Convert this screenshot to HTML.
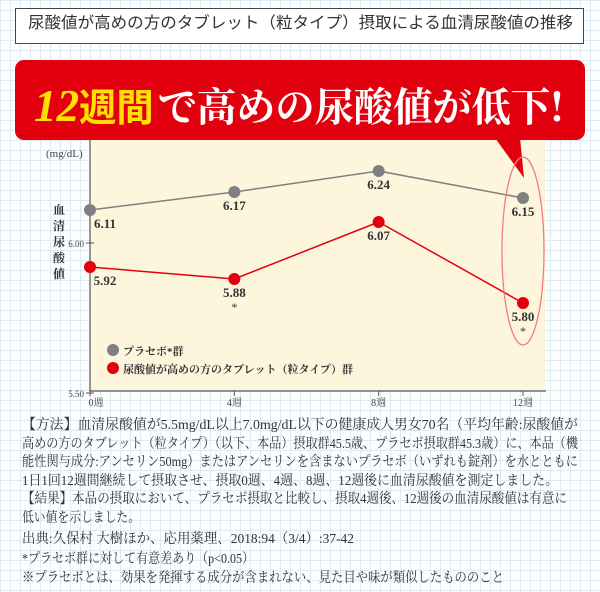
<!DOCTYPE html>
<html><head><meta charset="utf-8">
<style>
body{margin:0;width:600px;height:592px;overflow:hidden;font-family:"Liberation Serif","Noto Serif CJK SC",serif;
background-color:#fbfdfe;background-image:linear-gradient(#dfeaf0 1px,transparent 1px),linear-gradient(90deg,#dfeaf0 1px,transparent 1px);background-size:10px 10px;position:relative}
#title{position:absolute;left:15px;top:8px;width:567px;height:34px;border:1.5px solid #444;background:#fff;color:#333;overflow:hidden}
#title span{position:absolute;left:12px;top:0;line-height:34px;font:16px "Liberation Sans","Noto Sans CJK JP",sans-serif;white-space:nowrap;transform-origin:0 50%}
#notes{position:absolute;left:22px;top:417px;font-size:14px;color:#333;line-height:18.6px;white-space:nowrap}
#notes div{white-space:nowrap;width:max-content;transform-origin:0 50%}
</style></head><body>
<div id="title"><span class="fit" data-w="545">尿酸値が高めの方のタブレット（粒タイプ）摂取による血清尿酸値の推移</span></div>
<svg id="chart" width="600" height="410" style="position:absolute;left:0;top:0">
<rect x="90" y="135" width="455" height="255" fill="#fdf5dc"/>
<g id="banner">
<rect x="15" y="60" width="570" height="80" rx="9" fill="#e2000f"/>
<polygon points="495,138 520,138 524,178" fill="#e2000f"/>
<text x="34" y="121" textLength="530" lengthAdjust="spacingAndGlyphs" font-family="'Liberation Serif','Noto Serif CJK SC',serif" font-weight="bold" font-style="italic" font-size="46" fill="#ffe000">12<tspan font-style="normal" font-family="'Noto Sans CJK JP',sans-serif" font-size="38">週間</tspan><tspan fill="#fff" font-family="'Noto Serif CJK SC',serif" font-style="normal" font-size="40" dx="4">で高めの尿酸値が低下!</tspan></text>
</g>
<g id="axes"></g><g id="series"></g>
<ellipse cx="523" cy="251" rx="21" ry="94" fill="none" stroke="#ee7e86" stroke-width="1.3"/>
</svg>
<div id="notes">
<div class="fit" data-w="556">【方法】血清尿酸値が5.5mg/dL以上7.0mg/dL以下の健康成人男女70名（平均年齢:尿酸値が</div>
<div class="fit" data-w="556">高めの方のタブレット（粒タイプ）（以下、本品）摂取群45.5歳、プラセボ摂取群45.3歳）に、本品（機</div>
<div class="fit" data-w="556">能性関与成分:アンセリン50mg）またはアンセリンを含まないプラセボ（いずれも錠剤）を水とともに</div>
<div class="fit" data-w="536">1日1回12週間継続して摂取させ、摂取0週、4週、8週、12週後に血清尿酸値を測定しました。</div>
<div class="fit" data-w="545">【結果】本品の摂取において、プラセボ摂取と比較し、摂取4週後、12週後の血清尿酸値は有意に</div>
<div class="fit" data-w="118">低い値を示しました。</div>
<div class="fit" data-w="332" style="margin-top:2px">出典:久保村 大樹ほか、応用薬理、2018:94（3/4）:37-42</div>
<div class="fit" data-w="232" style="margin-top:2px">*プラセボ群に対して有意差あり（p&lt;0.05）</div>
<div class="fit" data-w="482">※プラセボとは、効果を発揮する成分が含まれない、見た目や味が類似したもののこと</div>
</div>
<script>
const categories=["0週","4週","8週","12週"];
const placebo=[6.11,6.17,6.24,6.15];
const tablet=[5.92,5.88,6.07,5.80];
const significant=[false,true,false,true];
const yTicks=[5.50,6.00];
const NS="http://www.w3.org/2000/svg";
function x(i){return 90+i*(523-90)/(categories.length-1);}
function y(v){return 243-(v-6)*300;}
function mk(t,a,p){const e=document.createElementNS(NS,t);for(const k in a)e.setAttribute(k,a[k]);p.appendChild(e);return e;}
const ax=document.getElementById('axes');
const yl=mk('line',{x1:90,y1:140,x2:90,y2:392,stroke:'#555','stroke-width':1.2},ax);


const xl=mk('line',{x1:90,y1:391,x2:546,y2:391,stroke:'#555','stroke-width':1.2},ax);


yTicks.forEach(v=>{
 mk('line',{x1:86,y1:y(v),x2:94,y2:y(v),stroke:'#555'},ax);
 const t=mk('text',{x:84,y:y(v)+4,'text-anchor':'end','font-size':9,fill:'#444'},ax);t.textContent=v.toFixed(2);
 
 
});
categories.forEach((c,i)=>{
 mk('line',{x1:x(i),y1:391,x2:x(i),y2:396,stroke:'#555'},ax);
 const t=mk('text',{x:x(i)+(i==0?6:0),y:406,'text-anchor':'middle','font-size':10,fill:'#444'},ax);t.textContent=c;
 
 
});
let u=mk('text',{x:46,y:157,'font-size':11,fill:'#444'},ax);u.textContent='(mg/dL)';


const yt=mk('text',{x:60,y:214,'font-size':12,'font-weight':'bold',fill:'#333','font-family':"'Noto Serif CJK SC',serif"},ax);


['血','清','尿','酸','値'].forEach((ch,k)=>{const s=mk('tspan',{x:53,dy:k?16:0},yt);s.textContent=ch;});
const sg=document.getElementById('series');
function series(vals,color,name,labelBelow){
 const pl=mk('polyline',{points:vals.map((v,i)=>x(i)+','+y(v)).join(' '),fill:'none',stroke:color,'stroke-width':1.5},sg);
 
 
 vals.forEach((v,i)=>{
  const c=mk('circle',{cx:x(i),cy:y(v),r:6,fill:color},sg);
  
  
  const t=mk('text',{x:x(i)+(i==0?15:0),y:y(v)+18,'text-anchor':'middle','font-size':13,'font-weight':'bold',fill:'#333'},sg);
  t.textContent=v.toFixed(2);
  
  
  if(labelBelow&&significant[i]){const s=mk('text',{x:x(i),y:y(v)+32,'text-anchor':'middle','font-size':12,fill:'#333'},sg);s.textContent='*';
  
  }
 });
}
series(placebo,'#808080','placebo',false);
series(tablet,'#e2000f','tablet',true);
const lg=mk('g',{},sg);


[['#808080','プラセボ*群'],['#e2000f','尿酸値が高めの方のタブレット（粒タイプ）群']].forEach((d,k)=>{
 mk('circle',{cx:113,cy:350+k*18,r:6,fill:d[0]},lg);
 const t=mk('text',{x:123,y:355+k*18,'font-size':11,'font-weight':'bold',fill:'#333'},lg);t.textContent=d[1];
 
 
});
document.querySelectorAll('.fit').forEach(el=>{
 const w=el.getBoundingClientRect().width;const tw=+el.getAttribute('data-w');
 if(w>0)el.style.transform='scaleX('+(tw/w)+')';
});
</script>
</body></html>
